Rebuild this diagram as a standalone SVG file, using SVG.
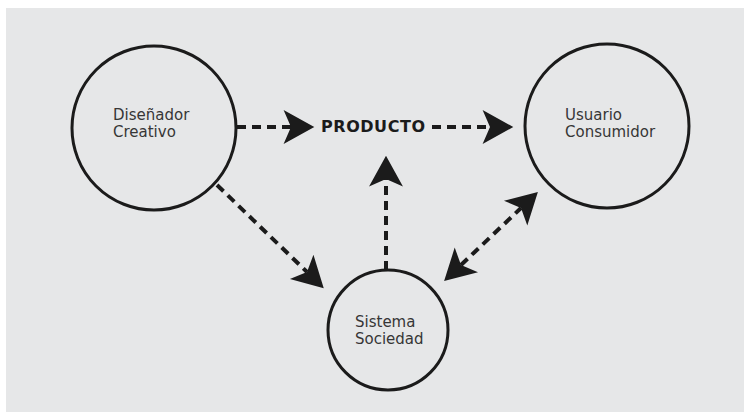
<svg xmlns="http://www.w3.org/2000/svg" width="744" height="412" viewBox="0 0 744 412">
  <style>
    .node { fill: none; stroke: #1b1b1b; stroke-width: 3; }
    .label { font-family: "DejaVu Sans", "Liberation Sans", sans-serif; font-size: 15px; fill: #363636; }
    .flow { fill: none; stroke: #1b1b1b; stroke-width: 4; stroke-dasharray: 9 6; }
    .title { font-family: "DejaVu Sans", "Liberation Sans", sans-serif; font-size: 16px; font-weight: bold; fill: #1b1b1b; }
  </style>
  <defs>
    <!-- dart-shaped head; refX sits on the notch so the line ends there -->
    <marker id="dart" markerUnits="userSpaceOnUse" markerWidth="32" markerHeight="36" viewBox="0 -17 30 34" refX="7" refY="0" orient="auto-start-reverse">
      <path d="M29,0 L0,-16 L7,0 L0,16 Z" fill="#1b1b1b"/>
    </marker>
  </defs>

  <rect x="6" y="8" width="738" height="404" fill="#e6e7e8"/>

  <g id="connectors">
    <line class="flow" x1="237" y1="127" x2="291" y2="127" marker-end="url(#dart)"/>
    <line class="flow" x1="432" y1="127" x2="490" y2="127" marker-end="url(#dart)"/>
    <line class="flow" x1="217" y1="185" x2="307" y2="272" marker-end="url(#dart)"/>
    <line class="flow" x1="386" y1="270" x2="386" y2="179" marker-end="url(#dart)"/>
    <line class="flow" x1="461" y1="265" x2="521" y2="208" marker-start="url(#dart)" marker-end="url(#dart)"/>
  </g>

  <g id="producto">
    <text class="title" x="321" y="132" textLength="104">PRODUCTO</text>
  </g>

  <g id="disenador">
    <circle class="node" cx="154" cy="128" r="82"/>
    <text class="label" x="113" y="120">Diseñador</text>
    <text class="label" x="113" y="137">Creativo</text>
  </g>

  <g id="usuario">
    <circle class="node" cx="607" cy="126" r="82"/>
    <text class="label" x="565" y="120">Usuario</text>
    <text class="label" x="565" y="137">Consumidor</text>
  </g>

  <g id="sociedad">
    <circle class="node" cx="388" cy="330" r="60" stroke-width="3.5"/>
    <text class="label" x="355" y="327">Sistema</text>
    <text class="label" x="355" y="344">Sociedad</text>
  </g>
</svg>
